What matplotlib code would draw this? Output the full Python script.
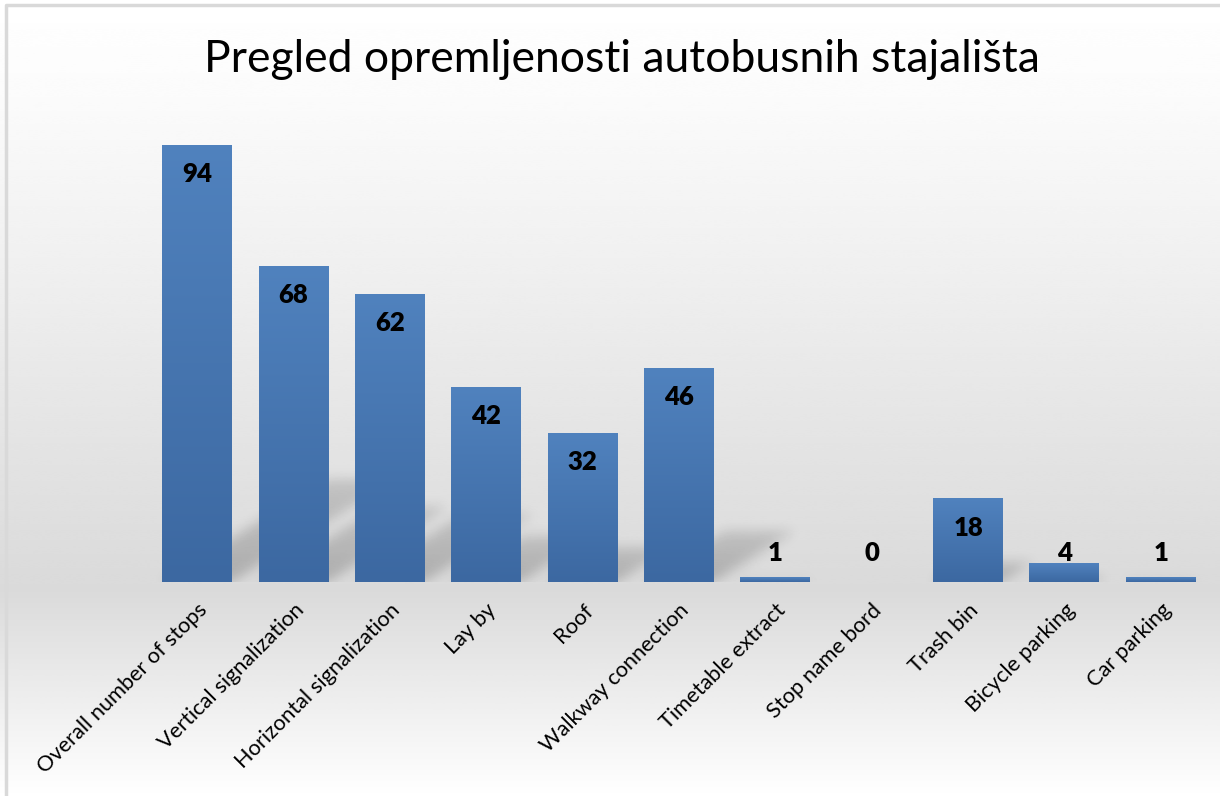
import numpy as np
import matplotlib.pyplot as plt
from matplotlib.colors import LinearSegmentedColormap

categories = ['Overall number of stops', 'Vertical signalization', 'Horizontal signalization',
              'Lay by', 'Roof', 'Walkway connection', 'Timetable extract', 'Stop name bord',
              'Trash bin', 'Bicycle parking', 'Car parking']
values = [94, 68, 62, 42, 32, 46, 1, 0, 18, 4, 1]
title = 'Pregled opremljenosti autobusnih stajališta'

plt.rcParams['font.family'] = ['Lato', 'DejaVu Sans']

W, H = 1220, 796
fig = plt.figure(figsize=(W / 100, H / 100), dpi=100)

# background: white at top, grey around the baseline, white again at bottom
bg = fig.add_axes([0, 0, 1, 1], zorder=-10)
yy = np.linspace(0, 1, 400)  # 0 = top
g = np.interp(yy, [0, 0.12, 0.74, 1.0], [1.0, 0.985, 0.855, 1.0])
bg.imshow(np.repeat(g[:, None], 2, axis=1), cmap='gray', vmin=0, vmax=1,
          aspect='auto', extent=[0, 1, 0, 1], interpolation='bicubic')
bg.set_xlim(0, 1)
bg.set_ylim(0, 1)
bg.axis('off')
# chart border (top and left edge visible)
bg.plot([6 / W, 6 / W, 1], [0, 1 - 5 / H, 1 - 5 / H], color='#d9d9d9', lw=2.5)

ax_l, ax_r, ax_b, ax_t = 149, 1209, 582, 117
ax = fig.add_axes([ax_l / W, 1 - ax_b / H, (ax_r - ax_l) / W, (ax_b - ax_t) / H])
ax.set_facecolor('none')
n = len(values)
x = np.arange(n)
bw = 0.726
ax.set_xlim(-0.5, n - 0.5)
ax.set_ylim(0, 100)

# soft perspective shadows, drawn as a blurred image in data space
nx, ny = ax_r - ax_l, ax_b - ax_t
gx = np.linspace(-0.5, n - 0.5, nx)
gy = np.linspace(0, 100, ny)
GX, GY = np.meshgrid(gx, gy)
shadow = np.zeros_like(GX)
for xi, v in zip(x, values):
    hs = 0.235 * v
    if hs <= 0:
        continue
    shift = 1.6 * hs * (ny / 100) / (nx / n)
    t = GY / hs
    inside = (GY <= hs) & (GX >= xi - bw / 2 + t * shift) & (GX <= xi + bw / 2 + t * shift)
    shadow = np.maximum(shadow, np.where(inside, 1.0 - 0.35 * t, 0))


def blur(a, sigma):
    r = int(3 * sigma)
    k = np.exp(-0.5 * (np.arange(-r, r + 1) / sigma) ** 2)
    k /= k.sum()
    a = np.apply_along_axis(lambda m: np.convolve(m, k, mode='same'), 0, a)
    a = np.apply_along_axis(lambda m: np.convolve(m, k, mode='same'), 1, a)
    return a


shadow = blur(shadow, 6)
rgba = np.zeros((ny, nx, 4))
rgba[..., 3] = 0.21 * shadow
ax.imshow(rgba, extent=[-0.5, n - 0.5, 0, 100], origin='lower', aspect='auto',
          zorder=1, interpolation='bilinear')

# bars with vertical gradient
bars = ax.bar(x, values, width=bw, color='#4a7ab5', zorder=2, linewidth=0)
grad_cmap = LinearSegmentedColormap.from_list('bg', ['#3c68a1', '#5082be'])
grad = np.linspace(0, 1, 256)[:, None]
for b, v in zip(bars, values):
    if v <= 0:
        continue
    im = ax.imshow(grad, cmap=grad_cmap, origin='lower', aspect='auto', zorder=3,
                   extent=[b.get_x(), b.get_x() + bw, 0, v])
    im.set_clip_path(b)

# data labels: inside end, pushed above very short bars
for xi, v in zip(x, values):
    ly = max(v - 6.3, 6.3)
    ax.text(xi, ly, f'{v}', ha='center', va='center', fontsize=18.5,
            fontweight='heavy', color='black', zorder=5)

ax.set_xticks(x)
ax.set_xticklabels(categories, rotation=45, ha='right', rotation_mode='anchor',
                   fontsize=15.7, color='black')
ax.tick_params(axis='x', length=0, pad=13)
ax.set_yticks([])
for s in ax.spines.values():
    s.set_visible(False)

fig.text(622 / W, 1 - 59 / H, title, ha='center', va='center', fontsize=32, color='black')

fig.savefig('out.png', dpi=100)
